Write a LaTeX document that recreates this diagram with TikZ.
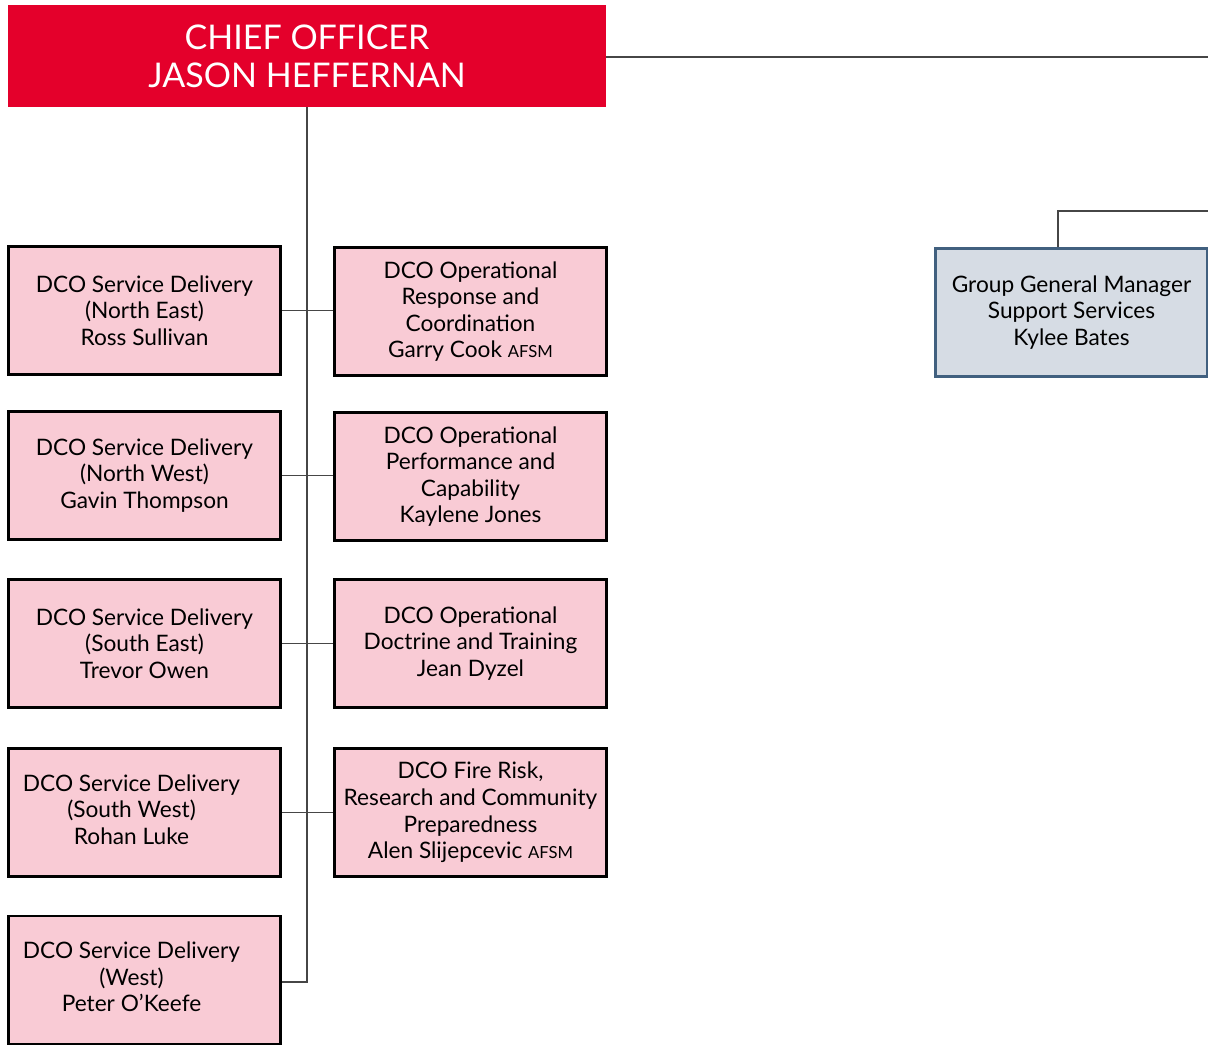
\documentclass[tikz,border=0pt]{standalone}
\usepackage{fontspec}
\setmainfont{Lato}
\usepackage{xcolor}
\definecolor{cfared}{RGB}{228,0,43}
\definecolor{cfapink}{RGB}{249,203,213}
\definecolor{cfagray}{RGB}{214,220,228}
\definecolor{cfablue}{RGB}{65,96,127}
\definecolor{cfaline}{RGB}{70,70,70}
\usetikzlibrary{positioning}
\newcommand{\postnom}[1]{{\fontsize{12.5}{14}\selectfont #1}}
\newcommand{\offlines}[1]{\raisebox{4pt}{\begin{tabular}{@{}c@{}}#1\end{tabular}}\hspace*{19.5pt}}

\begin{document}
\begin{tikzpicture}[
    x=0.75pt, y=-0.75pt,
    rolebox/.style={rectangle, draw=black, line width=2.2pt, fill=cfapink,
                    minimum width=204pt, minimum height=96pt, inner sep=0pt,
                    align=center, font=\fontsize{17}{19.9}\selectfont},
    chiefbox/.style={rectangle, fill=cfared, text=white, minimum width=448.5pt,
                     minimum height=76.5pt, inner sep=0pt, align=center,
                     font=\fontsize{25.5}{28.5}\selectfont},
    supportbox/.style={rolebox, fill=cfagray, draw=cfablue},
    link/.style={draw=cfaline, line width=0.9pt}
  ]
    \useasboundingbox (0,0) rectangle (1208,1045);

    \node[chiefbox] (chief) at (307,56) {CHIEF OFFICER\\JASON HEFFERNAN};

    % service delivery (left column)
    \node[rolebox] (ne) at (144.5,310.5)
      {DCO Service Delivery\\(North East)\\Ross Sullivan};
    \node[rolebox] (nw) at (144.5,475.5)
      {DCO Service Delivery\\(North West)\\Gavin Thompson};
    \node[rolebox] (se) at (144.5,643.5)
      {DCO Service Delivery\\(South East)\\Trevor Owen};
    \node[rolebox] (sw) at (144.5,812.5)
      {\offlines{DCO Service Delivery\\(South West)\\Rohan Luke}};
    \node[rolebox] (west) at (144.5,980)
      {\offlines{DCO Service Delivery\\(West)\\Peter O'Keefe}};

    % operational (right column)
    \node[rolebox] (resp) at (470.5,311.5)
      {DCO Operational\\Response and\\Coordination\\Garry Cook \postnom{AFSM}};
    \node[rolebox] (perf) at (470.5,476.5)
      {DCO Operational\\Performance and\\Capability\\Kaylene Jones};
    \node[rolebox] (doct) at (470.5,643.5)
      {DCO Operational\\Doctrine and Training\\Jean Dyzel};
    \node[rolebox] (fire) at (470.5,812.5)
      {DCO Fire Risk,\\Research and Community\\Preparedness\\Alen Slijepcevic \postnom{AFSM}};

    \node[supportbox] (gm) at (1071.5,312.5)
      {Group General Manager\\Support Services\\Kylee Bates};

    \coordinate (spine) at (307,982);
    \coordinate (east) at (1210,57);
    \coordinate (gmtop) at (1210,211);

    \draw[link] (chief.east |- east) -- (east);
    \draw[link] (chief.south -| spine) -- (spine) -- (west.east |- spine);
    \foreach \l/\r in {ne/resp, nw/perf, se/doct, sw/fire}{
      \draw[link] (\l.east) -- (\r.west |- \l.east);
    }
    \draw[link] (1058,0 |- gm.north) -- (1058,211) -- (gmtop);
\end{tikzpicture}
\end{document}
